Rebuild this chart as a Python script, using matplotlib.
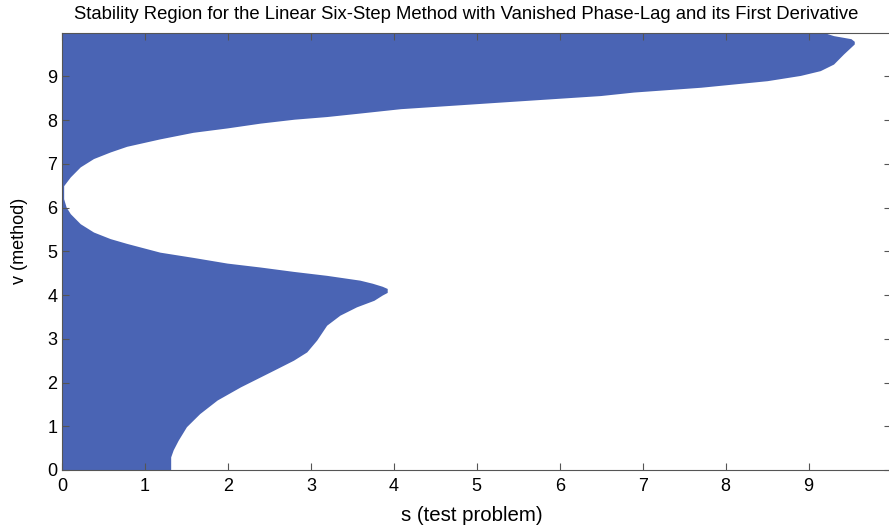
import matplotlib
matplotlib.use("Agg")
import matplotlib.pyplot as plt

# boundary of the stability region: for each v, region spans s in [0, s_max]
v_vals = [0.00, 0.30, 0.46, 0.68, 0.99, 1.29, 1.60, 1.90, 2.28, 2.51, 2.70, 2.97,
          3.31, 3.54, 3.73, 3.88, 4.00, 4.06, 4.15, 4.20, 4.27, 4.34, 4.45, 4.54,
          4.64, 4.73, 4.86, 4.98, 5.18, 5.29, 5.44, 5.63, 5.86, 6.01, 6.20, 6.50,
          6.70, 6.93, 7.12, 7.27, 7.40, 7.57, 7.72, 7.82, 7.93, 8.02, 8.08, 8.16,
          8.26, 8.41, 8.56, 8.64, 8.75, 8.90, 9.02, 9.13, 9.28, 9.51, 9.74, 9.80,
          9.86, 9.93, 9.99]
s_max = [1.31, 1.31, 1.34, 1.40, 1.50, 1.66, 1.87, 2.15, 2.55, 2.79, 2.95, 3.07,
         3.19, 3.35, 3.55, 3.76, 3.86, 3.92, 3.92, 3.86, 3.74, 3.59, 3.19, 2.79,
         2.39, 1.99, 1.58, 1.18, 0.78, 0.58, 0.38, 0.22, 0.10, 0.05, 0.02, 0.02,
         0.10, 0.22, 0.38, 0.58, 0.78, 1.18, 1.58, 1.99, 2.39, 2.80, 3.19, 3.59,
         4.08, 5.28, 6.49, 6.89, 7.70, 8.50, 8.90, 9.14, 9.30, 9.42, 9.55, 9.55,
         9.51, 9.30, 9.20]

x_ticks = [0, 1, 2, 3, 4, 5, 6, 7, 8, 9]
y_ticks = [0, 1, 2, 3, 4, 5, 6, 7, 8, 9]

plt.rcParams['font.family'] = ['Liberation Sans', 'DejaVu Sans']

fig = plt.figure(figsize=(8.89, 5.26), dpi=100)
ax = fig.add_axes([62/889, 56/526, 1 - 62/889 + 0.002, (470-33)/526])

ax.fill_betweenx(v_vals, 0, s_max, color='#4a64b4', linewidth=0)

ax.set_xlim(0, 9.99)
ax.set_ylim(0, 9.99)
ax.set_xticks(x_ticks)
ax.set_yticks(y_ticks)
ax.tick_params(direction='in', length=5, width=0.8, colors='#555555',
               labelcolor='black', labelsize=13, top=True, right=True)
ax.tick_params(axis='x', pad=6)
for sp in ax.spines.values():
    sp.set_color('#555555')
    sp.set_linewidth(0.8)

ax.set_xlabel('s (test problem)', fontsize=14.7)
ax.set_ylabel('v (method)', fontsize=13)
ax.xaxis.set_label_coords(0.495, -0.082)
ax.yaxis.set_label_coords(-0.041, 0.524)
fig.text(0.524, 0.973, 'Stability Region for the Linear Six-Step Method with Vanished Phase-Lag and its First Derivative',
         ha='center', va='center', fontsize=13.3)

fig.savefig('out.png', dpi=100)
